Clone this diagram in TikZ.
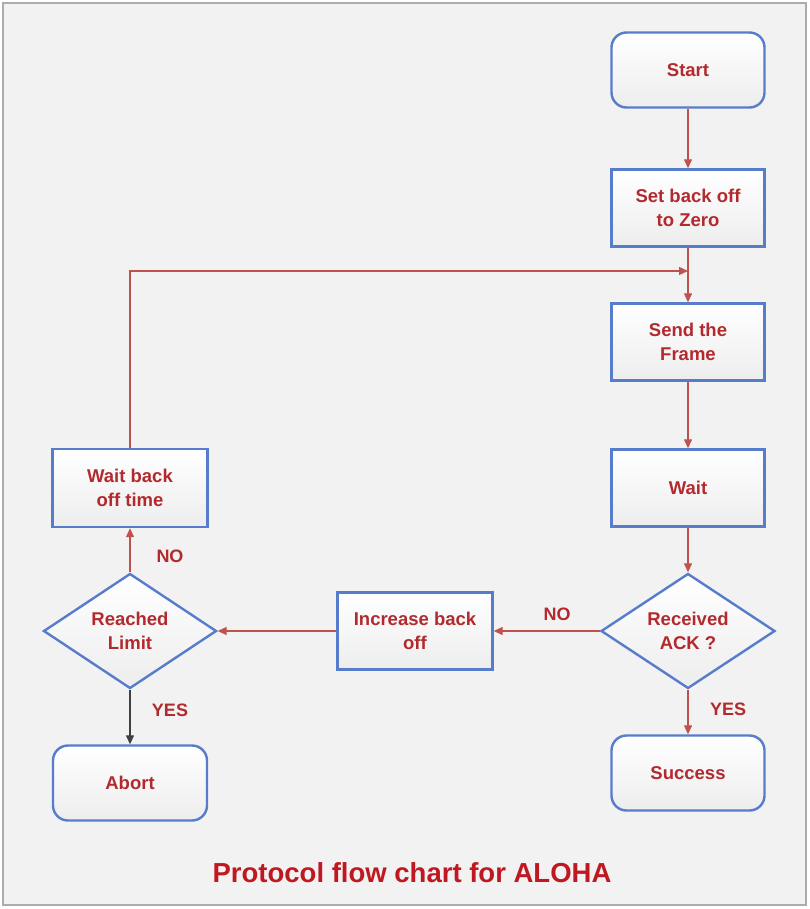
\documentclass[tikz,border=0pt]{standalone}
\usepackage{fontspec}
\setmainfont{Liberation Sans}
\usepackage{tikz}
\usetikzlibrary{shapes.geometric,arrows.meta}

\definecolor{boxblue}{RGB}{88,124,204}
\definecolor{txtred}{RGB}{178,42,46}
\definecolor{titlered}{RGB}{192,24,32}
\definecolor{flowred}{RGB}{192,82,78}
\definecolor{pagegray}{RGB}{242,242,242}

\tikzset{
  procbox/.style={draw=boxblue, line width=2.4pt, top color=white, bottom color=gray!14,
    minimum width=153pt, minimum height=77pt, align=center, text=txtred,
    font=\fontsize{18.5}{24}\selectfont\bfseries},
  termbox/.style={procbox, rounded corners=15pt, minimum height=75pt},
  decbox/.style={procbox, diamond, aspect=1.5, inner sep=0pt,
    minimum width=174pt, minimum height=115pt},
  flow/.style={draw=flowred, line width=1.3pt, -{Triangle[length=9pt,width=8pt]}},
  lbl/.style={text=txtred, font=\fontsize{18}{20}\selectfont\bfseries}
}

\begin{document}
\begin{tikzpicture}[x=1pt,y=1pt,yscale=-1,xscale=1]
%set diagram size 809 x 909
\useasboundingbox (0,0) rectangle (809,909);
\draw [draw=gray!65, line width=2.5pt, fill=pagegray] (3,3) rectangle (806,905);

% Right column
\node [termbox] (start) at (688,70) {Start};
\node [procbox] (setzero) at (688,208) {Set back off\\to Zero};
\node [procbox] (send) at (688,342) {Send the\\Frame};
\node [procbox] (wait) at (688,488) {Wait};
\node [decbox] (ack) at (688,631) {Received\\ACK ?};
\node [termbox] (success) at (688,773) {Success};

% Middle and left column
\node [procbox, minimum width=155pt] (incr) at (415,631) {Increase back\\off};
\node [decbox, minimum width=173pt] (limit) at (130,631) {Reached\\Limit};
\node [procbox, minimum width=155pt, minimum height=78pt] (waitbo) at (130,488) {Wait back\\off time};
\node [termbox, minimum width=154pt] (abort) at (130,783) {Abort};

% Join point of the retry loop
\coordinate (join) at (688,271);

%Straight Lines
\draw [flow] (start) -- (setzero);
\draw [flow] (setzero) -- (send);
\draw [flow] (send) -- (wait);
\draw [flow] (wait) -- (ack);
\draw [flow] (ack) -- (incr);
\draw [flow] (incr) -- (limit);
\draw [flow] (limit) -- (waitbo);
\draw [flow, draw=black!75] (limit) -- (abort);
\draw [flow] (ack) -- (success);
\draw [flow] (waitbo.north) |- (join);

% Text Node
\node [lbl] (noleft) at (170,556) {NO};
\node [lbl] (yesleft) at (170,710) {YES};
\node [lbl] (noright) at (557,614) {NO};
\node [lbl] (yesright) at (728,709) {YES};

% Title
\node [text=titlered, font=\fontsize{27.5}{30}\selectfont\bfseries] (title) at (412,873) {Protocol flow chart for ALOHA};

\end{tikzpicture}
\end{document}
